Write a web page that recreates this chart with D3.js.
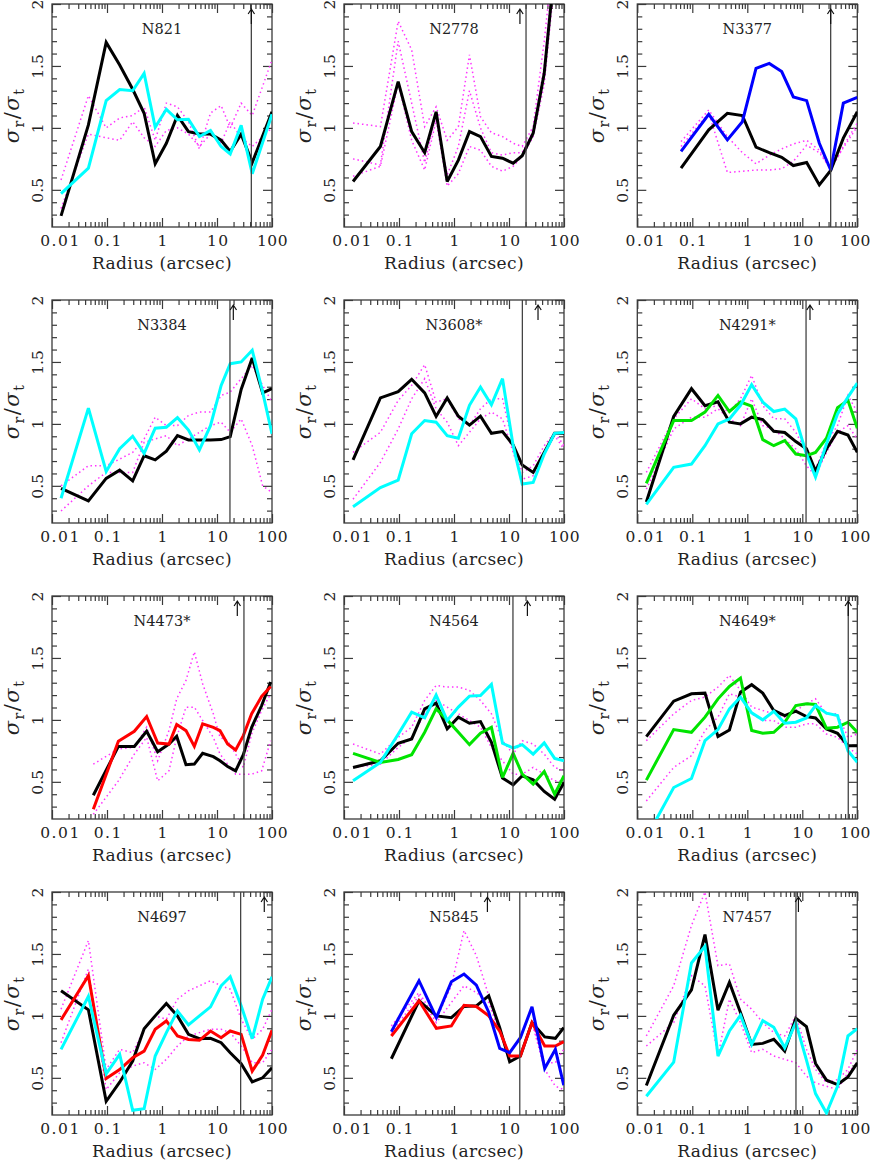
<!DOCTYPE html>
<html>
<head>
<meta charset="utf-8">
<script src="https://cdn.jsdelivr.net/npm/d3@7"></script>
<style>
  html, body { margin: 0; padding: 0; background: #fff; }
  svg { display: block; }
</style>
</head>
<body>
<svg id="chart" width="872" height="1160"></svg>
<script>
// ---------------- data ----------------
const panelNames = ["N821", "N2778", "N3377", "N3384", "N3608*", "N4291*", "N4473*", "N4564", "N4649*", "N4697", "N5845", "N7457"];

const xTickValues = [0.01, 0.1, 1, 10, 100];
const xTickLabels = ["0.01", "0.1", "1", "10", "100"];
const yTickValues = [0.5, 1, 1.5, 2];
const yTickLabels = ["0.5", "1", "1.5", "2"];

// radial bins (arcsec)
const binRadius   = [0.0146, 0.0459, 0.0966, 0.170, 0.293, 0.473, 0.752, 1.20, 1.91, 3.03, 4.79, 7.62, 11.9, 17.4, 27.5, 43.7, 67.6, 100];
const n3377Radius = [0.0624, 0.199, 0.434, 0.813, 1.44, 2.51, 4.22, 6.87, 12.0, 20.4, 32.8, 55.7, 100];
const n4473Radius = [0.0564, 0.161, 0.314, 0.526, 0.834, 1.34, 1.85, 2.73, 3.87, 5.48, 8.57, 11.35, 15.6, 21.8, 30.1, 42.7, 64.9, 94.6];
const n5845Radius = [0.0726, 0.231, 0.478, 0.895, 1.52, 2.55, 4.28, 6.78, 10.3, 16.1, 26.2, 44.6, 69.7, 98.9];

// N821
const n821Black = [0.29, 1.024, 1.69, 1.508, 1.312, 1.118, 0.71, 0.876, 1.10, 0.97, 0.95, 0.95, 0.90, 0.81, 0.95, 0.72, null, 1.13];
const n821Cyan  = [0.47, 0.675, 1.22, 1.31, 1.30, 1.44, 1.005, 1.15, 1.065, 1.07, 0.93, 0.98, 0.85, 0.79, 1.02, 0.63, null, 1.11];
const n821DotA  = [0.58, 1.26, 1.0, 1.08, 1.1, 1.17, 0.9, 1.2, 1.17, 1.05, 0.83, 1.12, 1.18, 1.0, 1.2, 1.1, null, 1.55];
const n821DotB  = [0.35, 0.95, 0.92, 0.9, 1.05, 0.92, 0.85, 0.98, 1.0, 0.95, 0.85, 0.95, 0.88, 1.05, 0.92, 0.85, null, 1.0];

// N2778
const n2778Black = [0.567, 0.85, 1.374, 0.97, 0.80, 1.13, 0.567, 0.74, 0.97, 0.93, 0.77, 0.755, 0.715, 0.775, 0.957, 1.44, 2.3, 3.0];
const n2778DotA  = [1.04, 1.01, 1.86, 1.63, 1.01, 1.17, 0.9, 1.01, 1.59, 1.09, 0.96, 0.93, 0.876, 0.85, 1.01, 1.7, 2.5, 3.0];
const n2778DotB  = [0.61, 0.69, 1.36, 0.9, 0.66, 1.06, 0.53, 0.63, 0.85, 0.82, 0.69, 0.65, 0.69, 0.77, 0.93, 1.35, 2.2, 3.0];
const n2778DotC  = [0.75, 0.7, 1.7, 1.2, 0.72, 1.1, 0.62, 0.85, 1.3, 1.0, 0.8, 0.78, 0.8, 0.8, 0.98, 1.5, 2.4, 3.0];

// N3377
const n3377Blue  = [0.81, 1.11, 0.903, 1.05, 1.48, 1.52, 1.455, 1.25, 1.22, 0.876, 0.66, 1.2, 1.247];
const n3377Black = [0.675, 0.984, 1.118, 1.10, 0.844, 0.80, 0.763, 0.696, 0.72, 0.54, 0.656, 0.917, 1.13];
const n3377DotA  = [0.89, 1.145, 0.93, 0.8, 0.71, 0.78, 0.83, 0.87, 0.9, 0.82, 0.66, 0.85, 1.04];
const n3377DotB  = [0.85, 1.12, 0.64, 0.65, 0.66, 0.66, 0.67, 0.73, 0.86, 0.8, 0.67, 0.84, 1.01];

// N3384
const n3384Cyan  = [0.40, 1.127, 0.616, 0.80, 0.90, 0.762, 0.965, 0.973, 1.05, 0.95, 0.79, 0.986, 1.31, 1.486, 1.5, 1.595, 1.257, 0.92];
const n3384Black = [0.48, 0.378, 0.56, 0.627, 0.54, 0.743, 0.71, 0.78, 0.905, 0.87, 0.87, 0.87, 0.873, 0.897, 1.278, 1.532, 1.25, 1.284];
const n3384DotA  = [0.5, 0.662, 0.662, 0.716, 0.77, 0.878, 1.054, 0.986, 0.986, 1.068, 1.095, 1.095, 1.23, 1.257, 1.365, 1.473, 1.31, 1.176];
const n3384DotB  = [0.297, 0.5, 0.608, 0.608, 0.608, 0.851, 0.878, 0.905, 0.824, 0.878, 0.932, 0.986, 1.014, 0.932, 1.04, 0.824, 0.5, 0.446];

// N3608*
const n3608Black = [0.71, 1.21, 1.26, 1.36, 1.25, 1.06, 1.21, 1.062, 0.99, 1.062, 0.924, 0.938, 0.83, 0.668, 0.608, 0.77, 0.924, 0.924];
const n3608Cyan  = [0.332, 0.486, 0.546, 0.92, 1.027, 1.014, 0.905, 0.884, 1.15, 1.297, 1.154, 1.365, 0.824, 0.514, 0.527, 0.757, 0.924, 0.93];
const n3608DotA  = [0.77, 0.932, 1.189, 1.311, 1.478, 1.176, 1.203, 1.041, 0.986, 1.122, 1.203, 1.203, 0.824, 0.608, 0.662, 0.824, 0.932, 0.824];
const n3608DotB  = [0.392, 0.689, 0.959, 1.203, 1.365, 1.122, 1.014, 0.824, 0.932, 1.041, 1.095, 1.041, 0.77, 0.554, 0.581, 0.77, 0.905, 0.797];

// N4291*
const n4291Black = [0.37, 1.06, 1.284, 1.146, 1.178, 1.014, 1.0, 1.054, 1.035, 0.94, 0.93, 0.857, 0.80, 0.62, 0.797, 0.94, 0.91, 0.77];
const n4291Green = [0.52, 1.027, 1.027, 1.095, 1.23, 1.1, 1.176, 1.143, 0.873, 0.824, 0.865, 0.757, 0.743, 0.77, 0.884, 1.13, 1.19, 0.965];
const n4291Cyan  = [0.35, 0.65, 0.676, 0.824, 1.0, 1.04, 1.15, 1.316, 1.176, 1.1, 1.12, 1.04, 0.757, 0.57, 0.838, 1.08, 1.216, 1.33];
const n4291DotA  = [0.608, 1.041, 1.203, 1.122, 1.149, 1.095, 1.203, 1.392, 1.149, 1.041, 1.041, 0.932, 0.77, 0.635, 0.851, 0.986, 1.23, 1.095];
const n4291DotB  = [0.473, 0.959, 1.054, 1.054, 1.122, 1.041, 0.986, 1.203, 0.986, 0.959, 0.878, 0.797, 0.662, 0.581, 0.77, 0.932, 0.986, 0.878];

// N4473*
const n4473Black = [0.392, 0.786, 0.786, 0.908, 0.743, 0.805, 0.868, 0.638, 0.643, 0.73, 0.703, 0.67, 0.624, 0.589, 0.719, 0.94, 1.116, 1.305];
const n4473Red   = [0.278, 0.827, 0.908, 1.027, 0.813, 0.805, 0.962, 0.913, 0.786, 0.968, 0.94, 0.913, 0.805, 0.757, 0.873, 1.05, 1.19, 1.27];
const n4473DotA  = [0.643, 0.765, 0.778, 0.941, 0.67, 0.914, 1.17, 1.319, 1.549, 1.292, 1.049, 0.859, 0.832, 0.724, 0.616, 0.886, 1.076, 1.211];
const n4473DotB  = [0.238, 0.508, 0.724, 0.859, 0.508, 0.589, 0.859, 1.103, 1.103, 0.995, 0.859, 0.724, 0.643, 0.562, 0.562, 0.562, 0.589, 0.832];

// N4564
const n4564Black = [0.616, 0.67, 0.811, 0.846, 1.089, 1.135, 0.927, 1.022, 0.973, 0.986, 0.819, 0.53, 0.476, 0.549, 0.516, 0.422, 0.359, 0.495];
const n4564Green = [0.73, 0.657, 0.68, 0.719, 0.9, 1.089, 1.0, 0.9, 0.8, 0.892, 0.941, 0.535, 0.73, 0.562, 0.481, 0.584, 0.4, 0.549];
const n4564Cyan  = [0.508, 0.657, 0.884, 1.062, 1.016, 1.2, 0.995, 1.103, 1.192, 1.197, 1.286, 0.811, 0.773, 0.8, 0.724, 0.814, 0.689, 0.67];
const n4564DotA  = [0.805, 0.724, 0.859, 0.941, 1.157, 1.278, 1.265, 1.265, 1.238, 1.157, 1.049, 0.832, 0.724, 0.832, 0.805, 0.724, 0.616, 0.589];
const n4564DotB  = [0.616, 0.643, 0.778, 0.859, 1.049, 1.157, 1.103, 1.049, 0.995, 0.941, 0.778, 0.67, 0.562, 0.562, 0.616, 0.562, 0.508, 0.508];

// N4649*
const n4649Black = [0.865, 1.151, 1.211, 1.216, 0.865, 0.919, 1.224, 1.284, 1.216, 1.076, 1.035, 1.07, 1.027, 1.016, 0.927, 0.892, 0.792, 0.792];
const n4649Green = [0.514, 0.922, 0.9, 1.022, 1.17, 1.27, 1.338, 0.914, 0.892, 0.9, 0.981, 1.116, 1.13, 1.124, 0.932, 0.941, 0.981, 0.9];
const n4649Cyan  = [0.05, 0.454, 0.527, 0.832, 0.922, 1.089, 1.184, 1.057, 1.0, 1.07, 0.973, 0.981, 1.016, 1.116, 1.054, 1.035, 0.751, 0.657];
const n4649DotA  = [0.832, 1.049, 1.157, 1.184, 1.265, 1.359, 1.238, 1.103, 1.076, 1.049, 1.022, 1.076, 1.13, 1.17, 1.049, 1.049, 0.859, 0.886];
const n4649DotB  = [0.346, 0.616, 0.711, 0.914, 1.022, 1.211, 1.184, 1.049, 0.995, 0.995, 0.941, 0.941, 0.968, 0.968, 0.886, 0.859, 0.778, 0.724];

// N4697
const n4697Black = [1.203, 1.049, 0.311, 0.465, 0.635, 0.897, 1.0, 1.1, 1.0, 0.851, 0.816, 0.819, 0.784, 0.703, 0.614, 0.468, 0.5, 0.581];
const n4697Red   = [0.968, 1.324, 0.495, 0.567, 0.662, 0.716, 0.892, 0.959, 0.838, 0.81, 0.803, 0.878, 0.824, 0.878, 0.851, 0.554, 0.684, 0.884];
const n4697Cyan  = [0.73, 1.157, 0.532, 0.689, 0.238, 0.251, 0.676, 0.865, 1.04, 0.927, 1.0, 1.073, 1.243, 1.316, 1.081, 0.816, 1.135, 1.316];
const n4697DotA  = [1.054, 1.608, 0.568, 0.73, 0.703, 0.892, 1.0, 0.973, 1.135, 1.203, 1.243, 1.284, 1.243, 1.216, 0.973, 0.811, 0.892, 1.054];
const n4697DotB  = [0.784, 1.378, 0.405, 0.541, 0.595, 0.622, 0.568, 0.649, 0.757, 0.838, 0.865, 0.892, 0.892, 0.865, 0.757, 0.622, 0.622, 0.73];

// N5845
const n5845Black = [0.654, 1.122, 1.0, 0.986, 1.076, 1.081, 1.162, 0.905, 0.63, 0.676, 0.946, 0.83, 0.819, 0.905];
const n5845Red   = [0.838, 1.122, 0.9, 0.919, 1.086, 1.076, 1.0, 0.878, 0.676, 0.676, 0.946, 0.757, 0.757, 0.792];
const n5845Blue  = [0.873, 1.284, 0.986, 1.276, 1.338, 1.249, 1.03, 0.738, 0.703, 0.824, 1.073, 0.576, 0.73, 0.44];
const n5845DotA  = [0.919, 1.189, 0.973, 1.243, 1.689, 1.486, 1.162, 0.865, 0.676, 0.676, 0.946, 0.568, 0.432, 0.405];
const n5845DotB  = [0.865, 1.162, 0.946, 1.108, 1.243, 1.189, 1.108, 0.865, 0.676, 0.676, 0.946, 0.622, 0.622, 0.73];

// N7457
const n7457Black = [0.438, 1.005, 1.211, 1.657, 1.046, 1.27, 1.027, 0.77, 0.778, 0.811, 0.716, 0.981, 0.914, 0.616, 0.481, 0.446, 0.508, 0.622];
const n7457Cyan  = [0.351, 0.627, 1.427, 1.562, 0.676, 0.878, 1.005, 0.77, 0.962, 0.908, 0.743, 0.946, 0.643, 0.373, 0.216, 0.432, 0.838, 0.897];
const n7457DotA  = [0.838, 1.243, 1.73, 2.0, 1.405, 1.419, 1.135, 1.054, 0.946, 0.865, 0.838, 1.0, 0.73, 0.568, 0.459, 0.486, 0.568, 0.73];
const n7457DotB  = [0.757, 0.946, 1.324, 1.243, 0.676, 1.135, 0.946, 0.703, 0.73, 0.676, 0.649, 0.622, 0.514, 0.459, 0.432, 0.405, 0.541, 0.622];

// reference radii: vertical line and arrow (arcsec)
const vlineRadius = [42.1, 20.4, 32.8, 17.2, 17.5, 11.7, 30.9, 11.8, 68.5, 26.9, 15.7, 7.67];
const arrowRadius = [42.1, 15.8, 32.8, 19.8, 33.7, 13.8, 23.4, 21.6, 68.5, 72.4, 4.05, 8.5];

// colours
const cBlack = "#000000", cCyan = "#00ffff", cBlue = "#0000ff", cGreen = "#00e400", cRed = "#ff0000", cDot = "#ff33ff";

// ---------------- panel table ----------------
const panels = [
  { r: binRadius,   lines: [[n821Black, cBlack], [n821Cyan, cCyan]], dots: [n821DotA, n821DotB] },
  { r: binRadius,   lines: [[n2778Black, cBlack]], dots: [n2778DotA, n2778DotB, n2778DotC] },
  { r: n3377Radius, lines: [[n3377Black, cBlack], [n3377Blue, cBlue]], dots: [n3377DotA, n3377DotB] },
  { r: binRadius,   lines: [[n3384Black, cBlack], [n3384Cyan, cCyan]], dots: [n3384DotA, n3384DotB] },
  { r: binRadius,   lines: [[n3608Black, cBlack], [n3608Cyan, cCyan]], dots: [n3608DotA, n3608DotB] },
  { r: binRadius,   lines: [[n4291Black, cBlack], [n4291Green, cGreen], [n4291Cyan, cCyan]], dots: [n4291DotA, n4291DotB] },
  { r: n4473Radius, lines: [[n4473Black, cBlack], [n4473Red, cRed]], dots: [n4473DotA, n4473DotB] },
  { r: binRadius,   lines: [[n4564Black, cBlack], [n4564Green, cGreen], [n4564Cyan, cCyan]], dots: [n4564DotA, n4564DotB] },
  { r: binRadius,   lines: [[n4649Black, cBlack], [n4649Green, cGreen], [n4649Cyan, cCyan]], dots: [n4649DotA, n4649DotB] },
  { r: binRadius,   lines: [[n4697Black, cBlack], [n4697Red, cRed], [n4697Cyan, cCyan]], dots: [n4697DotA, n4697DotB] },
  { r: n5845Radius, lines: [[n5845Black, cBlack], [n5845Red, cRed], [n5845Blue, cBlue]], dots: [n5845DotA, n5845DotB] },
  { r: binRadius,   lines: [[n7457Black, cBlack], [n7457Cyan, cCyan]], dots: [n7457DotA, n7457DotB] }
];

// ---------------- layout ----------------
const colLeft = [52, 344, 637.3];
const rowTop = [4, 300, 596, 892];
const W = 220, H = 223;
const FONT = "DejaVu Serif";
const axisColor = "#3a3a3a";

const svg = d3.select("#chart");

const x = d3.scaleLog().domain([0.01, 100]).range([0, W]);
const y = d3.scaleLinear().domain([0.2, 2]).range([H, 0]);

const xMinor = [];
[0.01, 0.1, 1, 10].forEach(d => { for (let k = 2; k <= 9; k++) xMinor.push(d * k); });
const yMinor = d3.range(3, 20).map(v => v / 10).filter(v => Math.abs(v * 2 - Math.round(v * 2)) > 1e-6);

function styleAxis(sel) {
  sel.attr("font-family", FONT);
  sel.select(".domain").remove();
  sel.selectAll(".tick line").attr("stroke", axisColor).attr("stroke-width", 1.2);
  sel.selectAll("text").attr("font-family", FONT).attr("font-size", 15.5).attr("fill", "#222");
}

panels.forEach((p, i) => {
  const col = i % 3;
  const left = colLeft[col], top = rowTop[Math.floor(i / 3)];
  const g = svg.append("g").attr("transform", `translate(${left},${top})`);

  const clipId = "clip" + i;
  g.append("clipPath").attr("id", clipId).append("rect").attr("width", W).attr("height", H);

  // ticks: bottom (with labels)
  const bottomMajor = g.append("g").attr("transform", `translate(0,${H})`)
    .call(d3.axisBottom(x).tickValues(xTickValues).tickSizeInner(-9).tickSizeOuter(0)
      .tickFormat((d, k) => xTickLabels[k]));
  styleAxis(bottomMajor);
  bottomMajor.selectAll("text").attr("y", 19).attr("dy", null)
    .attr("letter-spacing", d => d === 100 ? 0.4 : 1.5)
    .attr("dx", d => d === 0.01 ? 8 : (d === 100 ? (col === 2 ? -2.5 : 0) : 0.75));
  const bottomMinor = g.append("g").attr("transform", `translate(0,${H})`)
    .call(d3.axisBottom(x).tickValues(xMinor).tickSizeInner(-5).tickSizeOuter(0).tickFormat(""));
  styleAxis(bottomMinor);

  // top
  const topMajor = g.append("g").call(d3.axisTop(x).tickValues(xTickValues).tickSizeInner(-9).tickSizeOuter(0).tickFormat(""));
  styleAxis(topMajor);
  const topMinor = g.append("g").call(d3.axisTop(x).tickValues(xMinor).tickSizeInner(-5).tickSizeOuter(0).tickFormat(""));
  styleAxis(topMinor);

  // left (with rotated labels)
  const leftMajor = g.append("g").call(d3.axisLeft(y).tickValues(yTickValues).tickSizeInner(-9).tickSizeOuter(0)
    .tickFormat((d, k) => yTickLabels[k]));
  styleAxis(leftMajor);
  leftMajor.selectAll("text")
    .attr("transform", "rotate(-90)").attr("x", 0).attr("y", -9).attr("dy", null)
    .attr("text-anchor", "middle");
  const leftMinor = g.append("g").call(d3.axisLeft(y).tickValues(yMinor).tickSizeInner(-5).tickSizeOuter(0).tickFormat(""));
  styleAxis(leftMinor);

  // right
  const rightMajor = g.append("g").attr("transform", `translate(${W},0)`)
    .call(d3.axisRight(y).tickValues(yTickValues).tickSizeInner(-9).tickSizeOuter(0).tickFormat(""));
  styleAxis(rightMajor);
  const rightMinor = g.append("g").attr("transform", `translate(${W},0)`)
    .call(d3.axisRight(y).tickValues(yMinor).tickSizeInner(-5).tickSizeOuter(0).tickFormat(""));
  styleAxis(rightMinor);

  // frame
  g.append("rect").attr("width", W).attr("height", H)
    .attr("fill", "none").attr("stroke", axisColor).attr("stroke-width", 1.3);

  // data
  const plot = g.append("g").attr("clip-path", `url(#${clipId})`);
  const line = d3.line()
    .x(d => x(d[0]))
    .y(d => y(d[1]));
  const pts = vals => p.r.map((r, k) => [r, vals[k]]).filter(d => d[1] != null);

  p.dots.forEach(vals => {
    plot.append("path")
      .datum(pts(vals))
      .attr("d", line)
      .attr("fill", "none")
      .attr("stroke", cDot)
      .attr("stroke-width", 1.5)
      .attr("stroke-dasharray", "1.5,3");
  });

  p.lines.forEach(([vals, col]) => {
    plot.append("path")
      .datum(pts(vals))
      .attr("d", line)
      .attr("fill", "none")
      .attr("stroke", col)
      .attr("stroke-width", 3)
      .attr("stroke-linejoin", "miter")
      .attr("stroke-miterlimit", 3);
  });

  // vertical reference line
  g.append("line")
    .attr("x1", x(vlineRadius[i])).attr("x2", x(vlineRadius[i]))
    .attr("y1", 0).attr("y2", H)
    .attr("stroke", "#444").attr("stroke-width", 1.3);

  // arrow
  const ax = x(arrowRadius[i]);
  g.append("path")
    .attr("d", `M${ax},20 V5 M${ax - 3.2},10 L${ax},5 L${ax + 3.2},10`)
    .attr("fill", "none").attr("stroke", "#111").attr("stroke-width", 1.2);

  // title
  g.append("text")
    .attr("x", W / 2).attr("y", 30)
    .attr("text-anchor", "middle")
    .attr("font-family", FONT).attr("font-size", 14.5).attr("fill", "#222")
    .text(panelNames[i]);

  // x label
  g.append("text")
    .attr("x", W / 2).attr("y", H + 42)
    .attr("text-anchor", "middle")
    .attr("font-family", FONT).attr("font-size", 17).attr("fill", "#222")
    .attr("letter-spacing", 0.4)
    .text("Radius (arcsec)");

  // y label σr/σt
  const yl = g.append("text")
    .attr("transform", `translate(-33,${H / 2}) rotate(-90)`)
    .attr("text-anchor", "middle")
    .attr("font-family", FONT).attr("font-size", 21).attr("fill", "#222")
    .attr("letter-spacing", 1.5);
  yl.append("tspan").attr("font-style", "italic").text("σ");
  yl.append("tspan").attr("font-size", 14).attr("dy", 5).text("r");
  yl.append("tspan").attr("dy", -5).text("/");
  yl.append("tspan").attr("font-style", "italic").text("σ");
  yl.append("tspan").attr("font-size", 14).attr("dy", 5).text("t");
});
</script>
</body>
</html>
